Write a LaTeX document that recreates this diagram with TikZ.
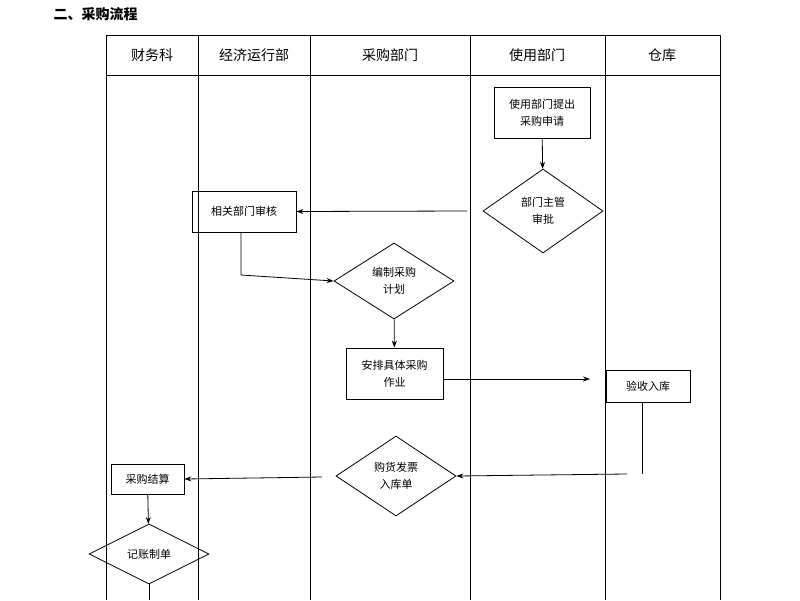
\documentclass[tikz,border=0pt]{standalone}
\usepackage{fontspec}
\setmainfont{Noto Sans CJK SC}
\usetikzlibrary{shapes.geometric,arrows.meta}
\begin{document}
\begin{tikzpicture}[x=1pt,y=-1pt,
  box/.style={draw,line width=0.8pt,font=\fontsize{11}{17}\selectfont,align=center,inner sep=0pt},
  dia/.style={draw,diamond,line width=0.8pt,font=\fontsize{11}{17}\selectfont,align=center,inner sep=0pt},
  hd/.style={font=\fontsize{14}{16}\selectfont},
  ar/.style={-{Stealth[length=7pt,width=5pt]},line width=0.8pt},
  ln/.style={line width=0.8pt}]
\useasboundingbox (0,0) rectangle (800,600);
\node[font=\bfseries\fontsize{14}{16}\selectfont,anchor=west] (title) at (50,14) {二、采购流程};
\draw[line width=0.6pt] (106,600) -- (106,35) -- (720,35) -- (720,600);
\draw[line width=0.6pt] (106,75) -- (720,75);
\foreach \x in {198,310,470,605} \draw[line width=0.6pt] (\x,35) -- (\x,600);
\node[hd] (h1) at (152,55) {财务科};
\node[hd] (h2) at (254,55) {经济运行部};
\node[hd] (h3) at (390,55) {采购部门};
\node[hd] (h4) at (537,55) {使用部门};
\node[hd] (h5) at (662,55) {仓库};
\node[box,minimum width=96pt,minimum height=51pt] (a) at (542,112.5) {使用部门提出\\采购申请};
\node[dia,minimum width=120pt,minimum height=84pt] (b) at (543,211) {部门主管\\审批};
\node[box,minimum width=104pt,minimum height=41pt] (c) at (244,211.5) {相关部门审核};
\node[dia,minimum width=120pt,minimum height=76pt] (d) at (394,281) {编制采购\\计划};
\node[box,minimum width=97pt,minimum height=51pt] (e) at (394.5,373.5) {安排具体采购\\作业};
\node[box,minimum width=84pt,minimum height=32pt] (f) at (648,386) {验收入库};
\node[dia,minimum width=120pt,minimum height=80pt] (g) at (396,476) {购货发票\\入库单};
\node[box,minimum width=73pt,minimum height=30pt] (h) at (147.5,479) {采购结算};
\node[dia,minimum width=120pt,minimum height=60pt] (i) at (149,554) {记账制单};
\coordinate (b1) at (467,211);
\coordinate (c1) at (241,275);
\coordinate (e1) at (590,379);
\coordinate (f1) at (642,474);
\coordinate (f2) at (627,474);
\coordinate (g1) at (322,477);
\coordinate (i1) at (149,600);
\draw[ar] (a) -- (b);
\draw[ar] (b1) -- (c.east);
\draw[ar] (c.south -| c1) -- (c1) -- (d.west);
\draw[ar] (d) -- (e);
\draw[ar] (e.east |- e1) -- (e1);
\draw[ln] (f.south -| f1) -- (f1);
\draw[ar] (f2) -- (g.east);
\draw[ar] (g1) -- (h.east);
\draw[ar] (h) -- (i);
\draw[ln] (i.south) -- (i1);
\end{tikzpicture}
\end{document}
